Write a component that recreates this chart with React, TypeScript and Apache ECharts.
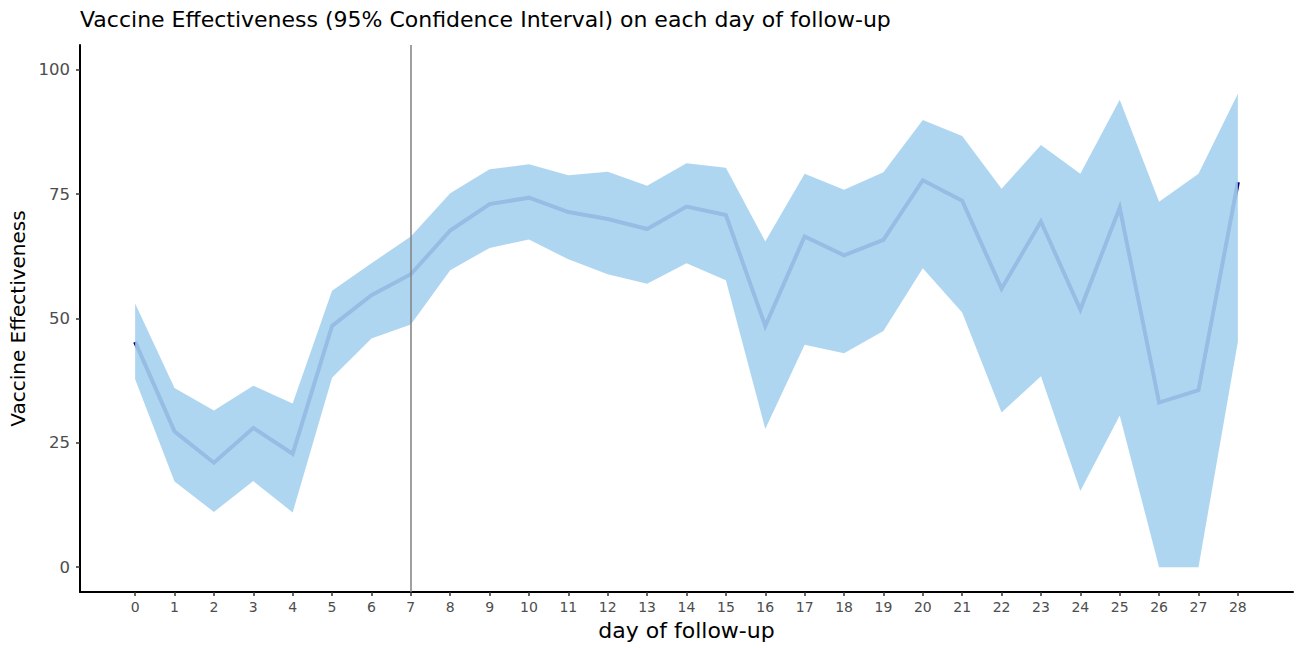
import React, { useEffect, useRef } from "react";
import * as echarts from "echarts";

// day of follow-up
const days = [
  0, 1, 2, 3, 4, 5, 6, 7, 8, 9, 10, 11, 12, 13, 14, 15, 16, 17, 18, 19, 20,
  21, 22, 23, 24, 25, 26, 27, 28,
];
// vaccine effectiveness point estimate
const ve = [
  45.3, 27.3, 21.0, 28.0, 22.8, 48.5, 54.7, 58.9, 67.7, 73.0, 74.3, 71.4,
  70.0, 68.0, 72.5, 70.8, 48.5, 66.5, 62.7, 65.8, 77.8, 73.7, 56.0, 69.5,
  51.8, 72.3, 33.1, 35.6, 77.4,
];
// 95% CI lower bound
const lower = [
  37.8, 17.2, 11.1, 17.3, 11.0, 38.1, 46.0, 48.8, 59.7, 64.2, 65.9, 61.9,
  58.9, 57.0, 61.1, 57.7, 27.8, 44.7, 43.0, 47.5, 60.1, 51.2, 31.1, 38.4,
  15.3, 30.5, 0, 0, 45.3,
];
// 95% CI upper bound
const upper = [
  53.0, 36.0, 31.5, 36.5, 32.9, 55.6, 61.1, 66.5, 75.2, 80.0, 81.0, 78.8,
  79.5, 76.7, 81.2, 80.3, 65.5, 79.1, 75.9, 79.4, 89.9, 86.7, 76.1, 84.9,
  79.1, 94.0, 73.5, 79.1, 95.2,
];
const yTicks = [0, 25, 50, 75, 100];
const refDay = 7;

export default function App() {
  const ref = useRef<HTMLDivElement>(null);

  useEffect(() => {
    document.body.style.margin = "0";
    if (!ref.current) return;
    const chart = echarts.init(ref.current, null, { renderer: "svg" });
    const font = "DejaVu Sans";

    chart.setOption({
      animation: false,
      backgroundColor: "#ffffff",
      title: {
        text: "Vaccine Effectiveness (95% Confidence Interval) on each day of follow-up",
        left: 80,
        top: 8,
        padding: 0,
        textStyle: {
          fontFamily: font,
          fontSize: 22,
          fontWeight: "normal",
          color: "#000000",
        },
      },
      grid: {
        left: 80,
        right: 11,
        top: 45,
        bottom: 56,
        containLabel: false,
        outerBoundsMode: "none",
      },
      xAxis: {
        type: "value",
        min: -1.4,
        max: 29.4,
        name: "day of follow-up",
        nameLocation: "middle",
        nameGap: 27,
        nameTextStyle: { fontFamily: font, fontSize: 22, color: "#000000" },
        axisLine: { show: true, onZero: false, lineStyle: { color: "#000000", width: 2 } },
        axisTick: {
          show: true,
          length: 4,
          customValues: days,
          lineStyle: { color: "#333333", width: 1.5 },
        },
        axisLabel: {
          customValues: days,
          margin: 8,
          fontFamily: font,
          fontSize: 14,
          color: "#4d4d4d",
        },
        splitLine: { show: false },
      },
      yAxis: {
        type: "value",
        min: -5,
        max: 105,
        name: "Vaccine Effectiveness",
        nameLocation: "middle",
        nameRotate: 90,
        nameGap: 51,
        nameTextStyle: { fontFamily: font, fontSize: 20, color: "#000000" },
        axisLine: { show: true, onZero: false, lineStyle: { color: "#000000", width: 2 } },
        axisTick: {
          show: true,
          length: 4,
          customValues: yTicks,
          lineStyle: { color: "#333333", width: 1.5 },
        },
        axisLabel: {
          customValues: yTicks,
          margin: 10,
          fontFamily: font,
          fontSize: 16.5,
          color: "#4d4d4d",
        },
        splitLine: { show: false },
      },
      series: [
        {
          type: "line",
          name: "VE",
          z: 1,
          data: days.map((d, i) => [d, ve[i]]),
          showSymbol: false,
          symbol: "none",
          lineStyle: { color: "#000080", width: 4, cap: "butt", join: "miter" },
          silent: true,
        },
        {
          type: "custom",
          name: "95% CI",
          z: 3,
          silent: true,
          data: days.map((d, i) => [d, lower[i], upper[i]]),
          renderItem: (params: any, api: any) => {
            if (params.dataIndex !== 0) return null;
            const top = days.map((d, i) => api.coord([d, upper[i]]));
            const bottom = days
              .map((d, i) => api.coord([d, lower[i]]))
              .reverse();
            return {
              type: "polygon",
              shape: { points: top.concat(bottom) },
              style: { fill: "rgba(166, 210, 238, 0.9)", stroke: "none" },
            };
          },
        },
        {
          type: "line",
          name: "reference",
          z: 4,
          data: [],
          markLine: {
            silent: true,
            symbol: "none",
            label: { show: false },
            lineStyle: { color: "#808080", width: 1.5, type: "solid" },
            data: [{ xAxis: refDay }],
          },
        },
      ],
    });

    return () => chart.dispose();
  }, []);

  return <div ref={ref} style={{ width: 1304, height: 648 }} />;
}
